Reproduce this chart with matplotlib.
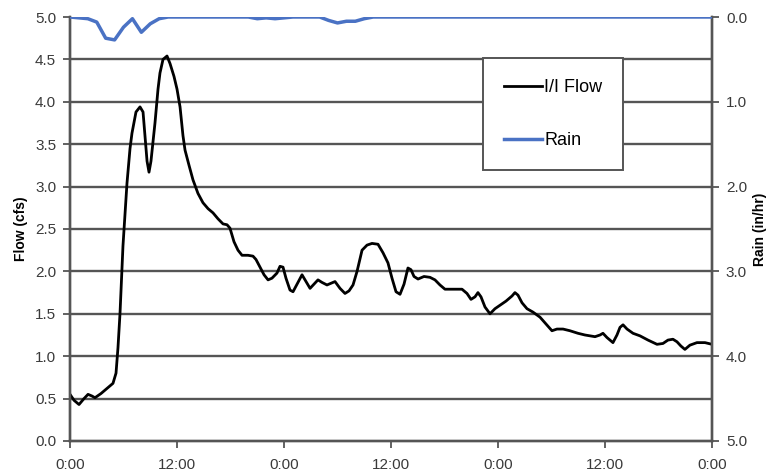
import numpy as np
import matplotlib
matplotlib.use("Agg")
from matplotlib import pyplot as plt

plt.rcParams['font.family'] = ['Liberation Sans', 'DejaVu Sans']

# I/I flow (cfs), hours from start
flow_hours = [0.00, 0.45, 1.01, 1.57, 2.02, 2.47, 2.80, 3.48, 4.15, 4.82,
              5.16, 5.38, 5.61, 5.94, 6.39, 6.73, 6.95, 7.40, 7.85, 8.19,
              8.41, 8.64, 8.86, 9.08, 9.53, 9.87, 10.09, 10.43, 10.88, 11.22,
              11.66, 12.00, 12.34, 12.67, 12.90, 13.35, 13.79, 14.35, 14.91, 15.48,
              16.04, 16.60, 17.16, 17.61, 17.94, 18.39, 18.84, 19.29, 19.96, 20.52,
              20.86, 21.31, 21.76, 22.21, 22.65, 23.21, 23.55, 23.89, 24.22, 24.67,
              25.01, 25.46, 26.02, 26.47, 26.92, 27.36, 27.81, 28.26, 28.82, 29.27,
              29.72, 30.28, 30.84, 31.29, 31.74, 32.19, 32.75, 33.31, 33.87, 34.54,
              35.10, 35.66, 36.11, 36.56, 37.01, 37.46, 37.90, 38.24, 38.58, 39.03,
              39.70, 40.37, 40.93, 41.49, 42.05, 43.18, 43.96, 44.52, 44.97, 45.42,
              45.75, 46.09, 46.54, 47.10, 47.66, 48.22, 48.90, 49.57, 49.90, 50.24,
              50.69, 51.25, 51.92, 52.71, 53.38, 54.05, 54.61, 55.29, 56.07, 56.97,
              57.75, 58.88, 59.44, 59.77, 60.22, 60.89, 61.34, 61.68, 62.02, 62.47,
              63.14, 63.92, 64.82, 65.83, 66.50, 67.06, 67.62, 68.07, 68.51, 68.96,
              69.52, 70.31, 71.21, 72.00]
flow_cfs = [0.55, 0.48, 0.43, 0.50, 0.55, 0.53, 0.51, 0.56, 0.62, 0.68,
            0.80, 1.10, 1.51, 2.30, 3.04, 3.45, 3.63, 3.88, 3.94, 3.88,
            3.60, 3.30, 3.17, 3.30, 3.75, 4.15, 4.34, 4.50, 4.54, 4.45,
            4.30, 4.15, 3.94, 3.60, 3.43, 3.25, 3.08, 2.92, 2.81, 2.74,
            2.69, 2.62, 2.56, 2.55, 2.51, 2.35, 2.25, 2.19, 2.19, 2.18,
            2.14, 2.05, 1.96, 1.90, 1.92, 1.98, 2.06, 2.05, 1.92, 1.78,
            1.76, 1.85, 1.96, 1.88, 1.80, 1.85, 1.90, 1.87, 1.84, 1.86,
            1.88, 1.80, 1.74, 1.77, 1.84, 2.00, 2.25, 2.31, 2.33, 2.32,
            2.22, 2.10, 1.92, 1.76, 1.73, 1.85, 2.04, 2.02, 1.94, 1.91,
            1.94, 1.93, 1.90, 1.84, 1.79, 1.79, 1.79, 1.74, 1.67, 1.70,
            1.75, 1.70, 1.58, 1.50, 1.56, 1.60, 1.65, 1.71, 1.75, 1.72,
            1.63, 1.56, 1.52, 1.46, 1.38, 1.30, 1.32, 1.32, 1.30, 1.27,
            1.25, 1.23, 1.25, 1.27, 1.22, 1.16, 1.25, 1.34, 1.37, 1.32,
            1.27, 1.24, 1.19, 1.14, 1.15, 1.19, 1.20, 1.17, 1.12, 1.08,
            1.13, 1.16, 1.16, 1.14]

# rainfall intensity (in/hr)
rain_hours = [0, 2, 3, 4, 5, 6, 7, 8, 9, 10, 11, 20, 21, 22, 23, 24, 25, 26,
              28, 29, 30, 31, 32, 33, 34, 72]
rain_inhr = [0.0, 0.02, 0.06, 0.25, 0.27, 0.12, 0.02, 0.18, 0.08, 0.02, 0.0, 0.0, 0.02,
             0.01, 0.02, 0.01, 0.0, 0.0, 0.0, 0.04, 0.07, 0.05, 0.05, 0.02, 0.0, 0.0]

x_ticks = [0, 12, 24, 36, 48, 60, 72]
x_labels = ["0:00", "12:00", "0:00", "12:00", "0:00", "12:00", "0:00"]

grid_col = "#555555"
txt_col = "#3a3a3a"

fig = plt.figure(figsize=(7.71, 4.75), dpi=100)
ax = fig.add_axes([0.0908, 0.0716, 0.8327, 0.8926])
ax2 = ax.twinx()

ax.set_xlim(0, 72)
ax.set_ylim(0, 5)
ax.set_yticks(np.arange(0, 5.01, 0.5))
ax.set_yticklabels(["%.1f" % v for v in np.arange(0, 5.01, 0.5)])
ax.set_xticks(x_ticks)
ax.set_xticklabels(x_labels)
for v in np.arange(0.5, 5.0, 0.5):
    ax.axhline(v, color=grid_col, lw=1.7, zorder=1)

l1, = ax.plot(flow_hours, flow_cfs, color="black", lw=2.0, zorder=3, label="I/I Flow")

ax2.set_ylim(5, 0)
ax2.set_yticks([0, 1, 2, 3, 4, 5])
ax2.set_yticklabels(["0.0", "1.0", "2.0", "3.0", "4.0", "5.0"])
l2, = ax2.plot(rain_hours, rain_inhr, color="#4a72c4", lw=2.5, zorder=3, label="Rain")

for a in (ax, ax2):
    a.spines["top"].set_visible(False)
    for s in ("left", "right", "bottom"):
        a.spines[s].set_color(grid_col)
        a.spines[s].set_linewidth(1.7)
    a.tick_params(colors=grid_col, labelcolor=txt_col, labelsize=11, width=1.3, length=5)
ax.tick_params(axis="x", pad=7)
ax.tick_params(axis="y", pad=5)
ax2.tick_params(axis="y", pad=5)

ax.set_ylabel("Flow (cfs)", fontsize=10, fontweight="bold", labelpad=5)
ax2.set_ylabel("Rain (in/hr)", fontsize=10, fontweight="bold", labelpad=4)

leg = ax.legend([l1, l2], ["I/I Flow", "Rain"], loc="upper left",
                bbox_to_anchor=(0.643, 0.903), fontsize=13, frameon=True, fancybox=False,
                borderpad=1.15, labelspacing=2.0, handlelength=2.1, handletextpad=0.15,
                borderaxespad=0)
leg.get_frame().set_edgecolor(grid_col)
leg.get_frame().set_linewidth(1.4)
leg.get_frame().set_alpha(1)
leg.set_zorder(5)

fig.savefig("out.png", dpi=100)
